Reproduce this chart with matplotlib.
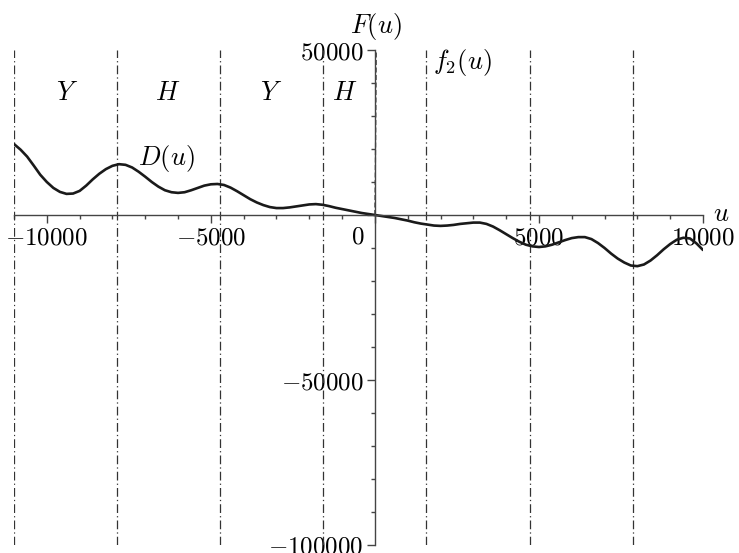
import matplotlib
matplotlib.use("Agg")
import matplotlib.pyplot as plt
from matplotlib.ticker import FixedLocator, FixedFormatter

plt.rcParams['mathtext.fontset'] = 'cm'
plt.rcParams['font.family'] = 'serif'
plt.rcParams['font.serif'] = ['DejaVu Serif']

# D(u) curve
u_D = [-11000, -10800, -10600, -10400, -10200, -10000, -9800, -9600, -9400, -9200,
       -9000, -8800, -8600, -8400, -8200, -8000, -7800, -7600, -7400, -7200,
       -7000, -6800, -6600, -6400, -6200, -6000, -5800, -5600, -5400, -5200,
       -5000, -4800, -4600, -4400, -4200, -4000, -3800, -3600, -3400, -3200,
       -3000, -2800, -2600, -2400, -2200, -2000, -1800, -1600, -1400, -1200,
       -1000, -800, -600, -400, -200, 0, 200, 400, 600, 800,
       1000, 1200, 1400, 1600, 1800, 2000, 2200, 2400, 2600, 2800,
       3000, 3200, 3400, 3600, 3800, 4000, 4200, 4400, 4600, 4800,
       5000, 5200, 5400, 5600, 5800, 6000, 6200, 6400, 6600, 6800,
       7000, 7200, 7400, 7600, 7800, 8000, 8200, 8400, 8600, 8800,
       9000, 9200, 9400, 9600, 9800, 10000]
D_vals = [21500, 19800, 17700, 15000, 12200, 10000, 8200, 7000, 6400, 6500,
          7300, 8900, 10800, 12500, 13900, 14900, 15400, 15200, 14400, 13100,
          11600, 10000, 8600, 7500, 6900, 6700, 6900, 7500, 8200, 8900,
          9300, 9400, 9100, 8300, 7200, 6000, 4800, 3800, 3000, 2400,
          2100, 2100, 2300, 2600, 2900, 3200, 3300, 3100, 2700, 2200,
          1800, 1400, 1000, 600, 300, 0, -300, -600, -900, -1300,
          -1700, -2200, -2600, -2900, -3200, -3300, -3200, -3000, -2700, -2500,
          -2300, -2300, -2700, -3500, -4600, -5800, -7000, -8100, -9000, -9500,
          -9700, -9500, -9000, -8300, -7600, -7000, -6700, -6700, -7300, -8500,
          -10000, -11700, -13200, -14400, -15300, -15500, -15000, -13800, -12200, -10400,
          -8800, -7500, -6900, -7100, -8600, -10600]

# f2(u): nearly vertical curve near the origin
u_f2 = [0, 10, 20, 30, 40]
f2_vals = [0, 9000, 21000, 35000, 50000]

# vertical dash-dot lines
u_lines = [-10996, -7854, -4712, -1571, 1571, 4712, 7854]

# region labels
region_labels = ['Y', 'H', 'Y', 'H']
region_u = [-9384, -6306, -3167, -911]
region_y = 36970

x_major = [-10000, -5000, 0, 5000, 10000]
x_major_labels = ['$-10000$', '$-5000$', '', '$5000$', '$10000$']
x_minor = [v for v in range(-11000, 10001, 1000)]
y_major = [50000, 0, -50000, -100000]
y_major_labels = ['$50000$', '', '$-50000$', '$-100000$']
y_minor = [v for v in range(-100000, 50001, 10000)]

fig = plt.figure(figsize=(7.39, 5.53), dpi=100)
ax = fig.add_axes([14/739, 8/553, 689/739, 495/553])
ax.set_xlim(-11000, 10000)
ax.set_ylim(-100000, 50000)

for s in ['top', 'right']:
    ax.spines[s].set_visible(False)
ax.spines['left'].set_position(('data', 0))
ax.spines['bottom'].set_position(('data', 0))
for s in ['left', 'bottom']:
    ax.spines[s].set_color('#444444')
    ax.spines[s].set_linewidth(1.0)

ax.xaxis.set_major_locator(FixedLocator(x_major))
ax.xaxis.set_major_formatter(FixedFormatter(x_major_labels))
ax.xaxis.set_minor_locator(FixedLocator(x_minor))
ax.yaxis.set_major_locator(FixedLocator(y_major))
ax.yaxis.set_major_formatter(FixedFormatter(y_major_labels))
ax.yaxis.set_minor_locator(FixedLocator(y_minor))
ax.tick_params(axis='both', which='major', direction='out', length=6, width=1.0,
               color='#444444', labelsize=18, pad=2)
ax.tick_params(axis='both', which='minor', direction='out', length=3, width=1.0,
               color='#444444')

ax.vlines(u_lines, -100000, 50000, colors='#333333', linewidth=0.9,
          linestyles=[(0, (7, 2.5, 1, 2.5))])

ax.plot(u_D, D_vals, color='#1a1a1a', linewidth=1.9, solid_capstyle='round',
        solid_joinstyle='round')
ax.plot(u_f2, f2_vals, color='#333333', linewidth=0.9, linestyle=(0, (4, 2)))

for lab, uu in zip(region_labels, region_u):
    ax.text(uu, region_y, f'${lab}$', fontsize=19, ha='center', va='center')

ax.text(-6367, 17270, '$D(u)$', fontsize=19, ha='center', va='center')
ax.text(2655, 46360, '$f_2(u)$', fontsize=19, ha='center', va='center')
ax.text(34, 56970, '$F(u)$', fontsize=19, ha='center', va='center')
ax.text(10549, 600, '$u$', fontsize=19, ha='center', va='center')
ax.text(-330, -6700, '$0$', fontsize=18, ha='right', va='center')

fig.savefig('out.png', dpi=100)
